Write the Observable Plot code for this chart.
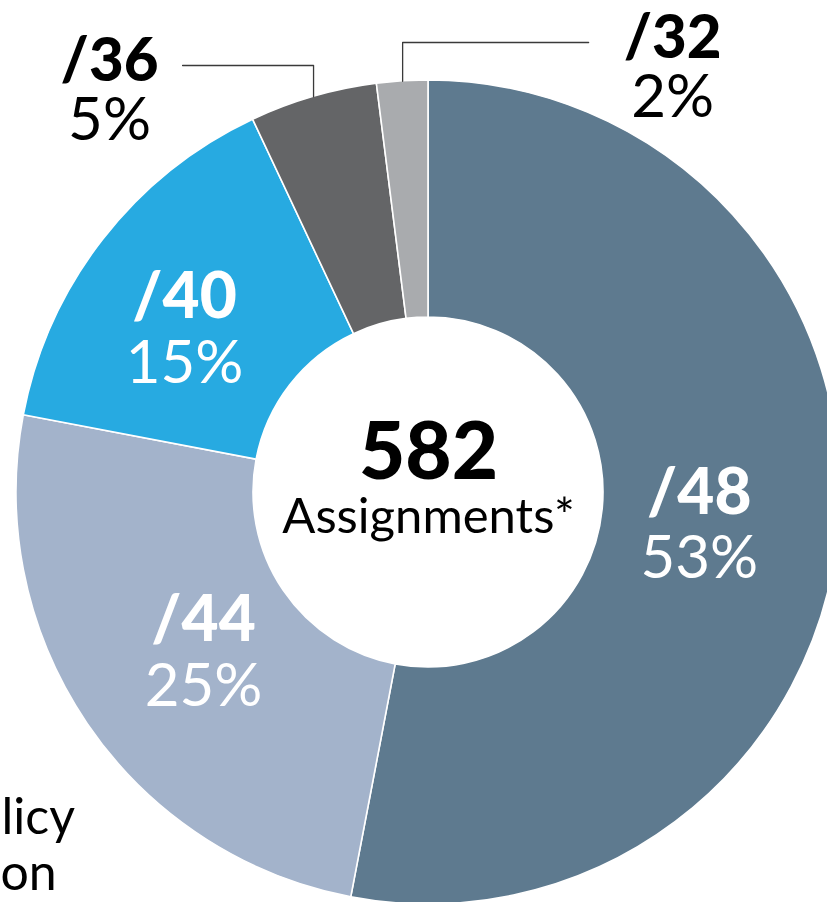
<!DOCTYPE html>
<html><head><meta charset="utf-8">
<script src="https://cdn.jsdelivr.net/npm/d3@7"></script>
<script src="https://cdn.jsdelivr.net/npm/@observablehq/plot@0.6"></script>
<style>html,body{margin:0;padding:0;background:#fff}#chart svg{display:block}</style>
</head><body><div id="chart"></div>
<script>
// ---- data ----
const categories = ["/48", "/44", "/40", "/36", "/32"];
const shares = [53, 25, 15, 5, 2];
const percentLabels = ["53%", "25%", "15%", "5%", "2%"];
const sliceColors = ["#5e7a8f", "#a3b3cb", "#27aae1", "#646567", "#a9abae"];
const centerTotal = ["582"];
const centerCaption = ["Assignments*"];
const sideLabelLines = ["licy", "on"];

// ---- layout ----
const W = 827, H = 902;
const cx = 428, cy = 492;          // donut centre within the svg
const R = 412, r0 = 175, rLabel = 272;
const insideNudge = {"/40": {dx: -29, dy: 3}};
const calloutLayout = {            // outside labels for thin slices
  "/36": {elbow: 427, run: -131, labelDx: -204},
  "/32": {elbow: 450, run: 186, labelDx: 270}
};
const FONT = "Lato, 'Noto Sans', sans-serif";

const total = d3.sum(shares);
let acc = 0;
const slices = categories.map((c, i) => {
  const a0 = acc / total * 2 * Math.PI; acc += shares[i];
  const a1 = acc / total * 2 * Math.PI;
  const mid = (a0 + a1) / 2;
  return {cat: c, pct: percentLabels[i], color: sliceColors[i], share: shares[i], a0, a1, mid};
});
const inside = slices.filter(d => !calloutLayout[d.cat]).map(d => {
  const n = insideNudge[d.cat] || {dx: 0, dy: 0};
  return {...d, lx: rLabel * Math.sin(d.mid) + n.dx, ly: rLabel * Math.cos(d.mid) + n.dy};
});
const outside = slices.filter(d => calloutLayout[d.cat]).map(d => {
  const L = calloutLayout[d.cat];
  const ex = R * Math.sin(d.mid), ey = R * Math.cos(d.mid);
  return {...d, ex, ey, elbow: L.elbow, endX: ex + L.run, labelX: ex + L.labelDx};
});
const leaderPts = outside.flatMap(d => [
  {cat: d.cat, x: d.ex, y: d.ey},
  {cat: d.cat, x: d.ex, y: d.elbow},
  {cat: d.cat, x: d.endX, y: d.elbow}
]);

function donut(index, scales) {
  const sx = scales.x, sy = scales.y;
  const k = sx(1) - sx(0);
  const g = d3.create("svg:g").attr("transform", `translate(${sx(0)},${sy(0)})`);
  const arc = d3.arc().innerRadius(r0 * k).outerRadius(R * k);
  g.selectAll("path").data(slices).join("path")
    .attr("d", d => arc({startAngle: d.a0, endAngle: d.a1}))
    .attr("fill", d => d.color)
    .attr("stroke", "#fff").attr("stroke-width", 1.6).attr("stroke-linejoin", "round");
  return g.node();
}

const chart = Plot.plot({
  width: W, height: H, margin: 0,
  style: {fontFamily: FONT, background: "#fff"},
  x: {domain: [-cx, W - cx], axis: null},
  y: {domain: [cy - H, cy], axis: null},
  marks: [
    donut,
    Plot.line(leaderPts, {x: "x", y: "y", z: "cat", stroke: "#3a3a3a", strokeWidth: 1.3}),
    Plot.text(inside, {x: "lx", y: "ly", text: "cat",
      dy: -25, fill: "#fff", fontSize: 64, fontWeight: 900, fontFamily: FONT}),
    Plot.text(inside, {x: "lx", y: "ly", text: "pct",
      dy: 41, fill: "#fff", fontSize: 60, fontWeight: "normal", fontFamily: FONT}),
    Plot.text(outside, {x: "labelX", y: "elbow", text: "cat", dy: -4, fill: "#000",
      fontSize: 60, fontWeight: 900, fontFamily: FONT}),
    Plot.text(outside, {x: "labelX", y: "elbow", text: "pct", dy: 55, fill: "#000",
      fontSize: 60, fontWeight: "normal", fontFamily: FONT}),
    Plot.text(centerTotal, {x: () => 0, y: () => 0, text: d => d, dy: -39, fill: "#000",
      fontSize: 80, fontWeight: 900, fontFamily: FONT}),
    Plot.text(centerCaption, {x: () => 0, y: () => 0, text: d => d, dy: 25, fill: "#000",
      fontSize: 49, fontWeight: "normal", fontFamily: FONT}),
    Plot.text(sideLabelLines, {x: (d, i) => i === 0 ? -427 : -428, y: (d, i) => -325 - i * 56,
      text: d => d, textAnchor: "start", fill: "#000", fontSize: 50, fontWeight: "normal", fontFamily: FONT})
  ]
});
document.getElementById("chart").appendChild(chart);
</script>
</body></html>
